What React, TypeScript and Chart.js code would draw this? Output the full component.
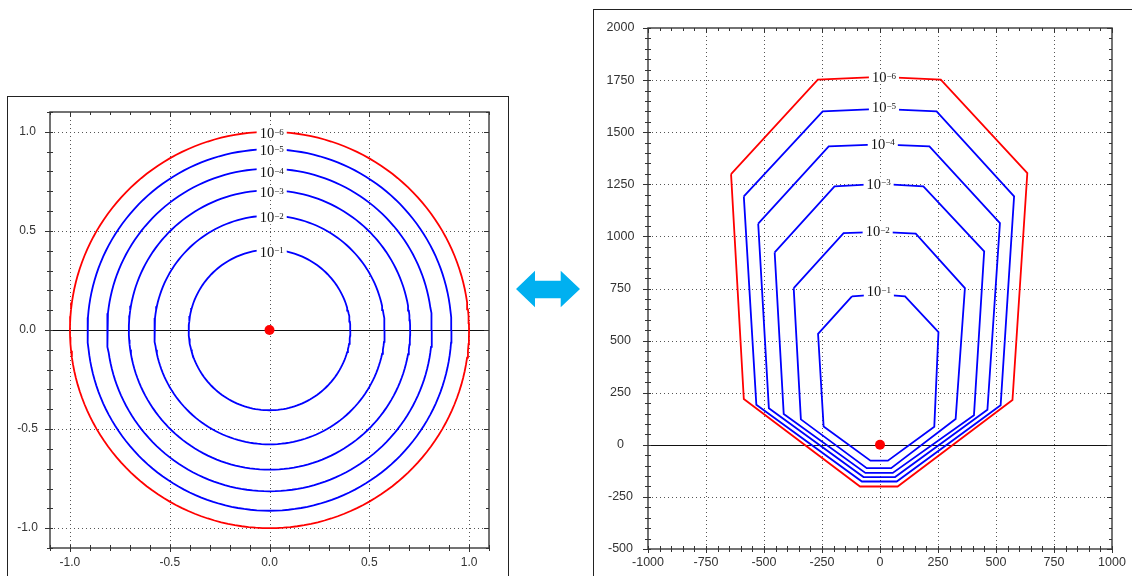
import React, { useEffect, useRef } from 'react';
import { Chart, registerables } from 'chart.js';
Chart.register(...registerables);

// ---------- Left panel: circular contours ----------
const levelLabels = ['\u22126', '\u22125', '\u22124', '\u22123', '\u22122', '\u22121'];
const leftRadii = [1.0, 0.912, 0.814, 0.705, 0.577, 0.405];
const leftLabelX = [0.011, 0.011, 0.011, 0.011, 0.011, 0.011];
const leftLabelY = [0.987, 0.9, 0.79, 0.69, 0.564, 0.39];
const leftXTicks = [-1.0, -0.5, 0, 0.5, 1.0];
const leftYTicks = [-1.0, -0.5, 0, 0.5, 1.0];

// ---------- Right panel: polygonal contours ----------
const c6X = [-642, -268, 0, 262, 635, 571, 76, -86, -587, -642];
const c6Y = [1299, 1752, 1765, 1752, 1304, 215, -200, -200, 220, 1299];
const c5X = [-587, -247, 0, 244, 578, 520, 72, -78, -533, -587];
const c5Y = [1192, 1600, 1612, 1600, 1192, 190, -176, -176, 192, 1192];
const c4X = [-525, -221, 0, 213, 517, 463, 65, -71, -479, -525];
const c4Y = [1061, 1432, 1442, 1432, 1064, 168, -155, -155, 175, 1061];
const c3X = [-454, -196, 0, 187, 449, 405, 55, -63, -415, -454];
const c3Y = [923, 1240, 1252, 1240, 928, 142, -135, -135, 148, 923];
const c2X = [-372, -157, 0, 154, 366, 326, 48, -57, -341, -372];
const c2Y = [752, 1016, 1022, 1013, 752, 124, -112, -112, 122, 752];
const c1X = [-121, 0, 108, 252, 234, 34, -41, -243, -267, -121];
const c1Y = [712, 722, 712, 541, 87, -76, -76, 88, 532, 712];
const rightLabelX = [17, 17, 12, -6, -10, -5];
const rightLabelY = [1760, 1616, 1440, 1248, 1021, 731];
const rightXTicks = [-1000, -750, -500, -250, 0, 250, 500, 750, 1000];
const rightYTicks = [-500, -250, 0, 250, 500, 750, 1000, 1250, 1500, 1750, 2000];

const RED = '#ff0000';
const BLUE = '#0000ff';

type DecoCfg = {
  xTicks: number[];
  yTicks: number[];
  xMinor: number;
  yMinor: number;
  fmt: (v: number) => string;
  fontSize: number;
  yLabelOffset: number;
  xLabelOffset: number;
  labelX: number[];
  labelY: number[];
};

function makeDeco(cfg: DecoCfg) {
  return {
    id: 'deco',
    beforeDatasetsDraw(chart: any) {
      const { ctx, chartArea: a } = chart;
      const xs = chart.scales.x;
      const ys = chart.scales.y;
      const line = (x1: number, y1: number, x2: number, y2: number) => {
        ctx.beginPath();
        ctx.moveTo(x1, y1);
        ctx.lineTo(x2, y2);
        ctx.stroke();
      };
      ctx.save();
      // dotted grid
      ctx.strokeStyle = '#555';
      ctx.lineWidth = 1;
      ctx.setLineDash([1, 3]);
      for (const v of cfg.xTicks) {
        const px = Math.round(xs.getPixelForValue(v)) + 0.5;
        if (px <= a.left + 2 || px >= a.right - 2) continue;
        line(px, a.top, px, a.bottom);
      }
      for (const v of cfg.yTicks) {
        if (v === 0) continue;
        const py = Math.round(ys.getPixelForValue(v)) + 0.5;
        if (py <= a.top + 2 || py >= a.bottom - 2) continue;
        line(a.left, py, a.right, py);
      }
      ctx.setLineDash([]);
      // zero line
      ctx.strokeStyle = '#111';
      ctx.lineWidth = 1;
      const y0 = Math.round(ys.getPixelForValue(0)) + 0.5;
      line(a.left, y0, a.right, y0);
      // frame
      ctx.strokeStyle = '#444';
      ctx.lineWidth = 1.5;
      ctx.strokeRect(a.left, a.top, a.right - a.left, a.bottom - a.top);
      // ticks
      ctx.lineWidth = 1;
      ctx.strokeStyle = '#333';
      const isMajor = (v: number, arr: number[]) => arr.some((t) => Math.abs(t - v) < 1e-6);
      const xmin = xs.min, xmax = xs.max, ymin = ys.min, ymax = ys.max;
      for (let k = Math.ceil(xmin / cfg.xMinor - 1e-6); k * cfg.xMinor <= xmax + 1e-6; k++) {
        const v = k * cfg.xMinor;
        const px = Math.round(xs.getPixelForValue(v)) + 0.5;
        const maj = isMajor(v, cfg.xTicks);
        line(px, a.bottom - 3, px, a.bottom + (maj ? 4 : 3));
        line(px, a.top, px, a.top + (maj ? 5 : 3));
      }
      for (let k = Math.ceil(ymin / cfg.yMinor - 1e-6); k * cfg.yMinor <= ymax + 1e-6; k++) {
        const v = k * cfg.yMinor;
        const py = Math.round(ys.getPixelForValue(v)) + 0.5;
        const maj = isMajor(v, cfg.yTicks);
        line(a.left - (maj ? 5 : 3), py, a.left + 3, py);
        line(a.right - (maj ? 5 : 3), py, a.right, py);
      }
      // tick labels
      ctx.fillStyle = '#333';
      ctx.font = `${cfg.fontSize}px "Liberation Sans", Arial, sans-serif`;
      ctx.textAlign = 'center';
      ctx.textBaseline = 'middle';
      for (const v of cfg.xTicks) {
        ctx.fillText(cfg.fmt(v), xs.getPixelForValue(v), a.bottom + cfg.xLabelOffset);
      }
      for (const v of cfg.yTicks) {
        ctx.fillText(cfg.fmt(v), a.left - cfg.yLabelOffset, ys.getPixelForValue(v));
      }
      ctx.restore();
    },
    afterDatasetsDraw(chart: any) {
      const { ctx } = chart;
      const xs = chart.scales.x;
      const ys = chart.scales.y;
      ctx.save();
      const bigFont = '14.5px "Liberation Serif", "Times New Roman", serif';
      const smallFont = '9px "Liberation Serif", "Times New Roman", serif';
      for (let i = 0; i < cfg.labelX.length; i++) {
        const cx = xs.getPixelForValue(cfg.labelX[i]);
        const cy = ys.getPixelForValue(cfg.labelY[i]);
        ctx.font = bigFont;
        const w1 = ctx.measureText('10').width;
        ctx.font = smallFont;
        const w2 = ctx.measureText(levelLabels[i]).width;
        const total = w1 + w2;
        const x0 = cx - total / 2;
        ctx.fillStyle = '#fff';
        ctx.fillRect(x0 - 3, cy - 8, total + 6, 14);
        ctx.fillStyle = '#111';
        ctx.textAlign = 'left';
        ctx.textBaseline = 'middle';
        ctx.font = bigFont;
        ctx.fillText('10', x0, cy);
        ctx.textBaseline = 'alphabetic';
        ctx.font = smallFont;
        ctx.fillText(levelLabels[i], x0 + w1, cy + 0.5);
      }
      // red centre dot on top
      ctx.fillStyle = RED;
      ctx.beginPath();
      ctx.arc(xs.getPixelForValue(0), ys.getPixelForValue(0), 5, 0, Math.PI * 2);
      ctx.fill();
      ctx.restore();
    },
  };
}

function circlePoints(r: number) {
  const pts: { x: number; y: number }[] = [];
  for (let d = 0; d <= 360; d += 2) {
    const t = (d * Math.PI) / 180;
    pts.push({ x: r * Math.cos(t), y: r * Math.sin(t) });
  }
  return pts;
}

function zip(xs: number[], ys: number[]) {
  return xs.map((x, i) => ({ x, y: ys[i] }));
}

function lineDs(data: { x: number; y: number }[], color: string) {
  return {
    data,
    showLine: true,
    borderColor: color,
    borderWidth: 1.8,
    pointRadius: 0,
    tension: 0,
    fill: false,
  };
}

function baseOptions(
  xmin: number, xmax: number, ymin: number, ymax: number,
  padT: number, padR: number, yW: number, xH: number,
) {
  return {
    animation: false,
    responsive: false,
    maintainAspectRatio: false,
    events: [],
    layout: { padding: { left: 0, right: padR, top: padT, bottom: 0 } },
    plugins: { legend: { display: false }, tooltip: { enabled: false } },
    scales: {
      x: {
        type: 'linear', min: xmin, max: xmax,
        ticks: { display: false }, grid: { display: false }, border: { display: false },
        afterFit: (s: any) => { s.height = xH; },
      },
      y: {
        type: 'linear', min: ymin, max: ymax,
        ticks: { display: false }, grid: { display: false }, border: { display: false },
        afterFit: (s: any) => { s.width = yW; },
      },
    },
  } as any;
}

export default function App() {
  const leftRef = useRef<HTMLCanvasElement>(null);
  const rightRef = useRef<HTMLCanvasElement>(null);

  useEffect(() => {
    const leftDs = leftRadii.map((r, i) => lineDs(circlePoints(r), i === 0 ? RED : BLUE));
    const left = new Chart(leftRef.current as HTMLCanvasElement, {
      type: 'scatter',
      data: { datasets: leftDs as any },
      options: baseOptions(-1.1, 1.1, -1.1, 1.1, 15, 18, 42, 28),
      plugins: [
        makeDeco({
          xTicks: leftXTicks, yTicks: leftYTicks, xMinor: 0.1, yMinor: 0.1,
          fmt: (v) => v.toFixed(1), fontSize: 12, yLabelOffset: 22.5, xLabelOffset: 15,
          labelX: leftLabelX, labelY: leftLabelY,
        }) as any,
      ],
    });

    const polys = [
      [c6X, c6Y], [c5X, c5Y], [c4X, c4Y], [c3X, c3Y], [c2X, c2Y], [c1X, c1Y],
    ];
    const rightDs = polys.map((p, i) => lineDs(zip(p[0], p[1]), i === 0 ? RED : BLUE));
    const right = new Chart(rightRef.current as HTMLCanvasElement, {
      type: 'scatter',
      data: { datasets: rightDs as any },
      options: baseOptions(-1000, 1000, -500, 2000, 18, 19, 54, 27),
      plugins: [
        makeDeco({
          xTicks: rightXTicks, yTicks: rightYTicks, xMinor: 50, yMinor: 50,
          fmt: (v) => String(v), fontSize: 12.5, yLabelOffset: 27.5, xLabelOffset: 14,
          labelX: rightLabelX, labelY: rightLabelY,
        }) as any,
      ],
    });
    return () => {
      left.destroy();
      right.destroy();
    };
  }, []);

  return (
    <div style={{ position: 'fixed', left: 0, top: 0, width: 1132, height: 576, background: '#fff', overflow: 'hidden' }}>
      <div style={{ position: 'absolute', left: 7, top: 96, width: 502, height: 500, border: '1px solid #222', boxSizing: 'border-box' }} />
      <div style={{ position: 'absolute', left: 593, top: 9, width: 600, height: 600, border: '1px solid #222', boxSizing: 'border-box' }} />
      <canvas ref={leftRef} width={499} height={479} style={{ position: 'absolute', left: 8, top: 97, display: 'block' }} />
      <canvas ref={rightRef} width={537} height={566} style={{ position: 'absolute', left: 594, top: 10, display: 'block' }} />
      <svg width={1132} height={576} style={{ position: 'absolute', left: 0, top: 0, pointerEvents: 'none' }}>
        <polygon
          points="516,289 535,270.7 535,280.7 560.7,280.7 560.7,270.7 580,289 560.7,307.3 560.7,298.3 535,298.3 535,307.3"
          fill="#00b0f0"
        />
      </svg>
    </div>
  );
}
